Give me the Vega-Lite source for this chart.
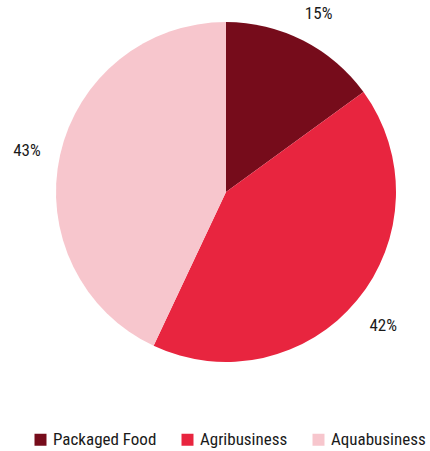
{
  "$schema": "https://vega.github.io/schema/vega-lite/v6.json",
  "width": 408,
  "height": 384,
  "autosize": {"type": "none"},
  "padding": {"left": 22, "top": 0, "right": 0, "bottom": 67},
  "background": "white",
  "config": {"view": {"stroke": null}, "font": "Liberation Sans Narrow, Roboto Condensed, DejaVu Sans Condensed, sans-serif"},
  "data": {"values": [
    {"segment": "Packaged Food", "share": 15, "rank": 1, "label": "15%"},
    {"segment": "Agribusiness", "share": 42, "rank": 2, "label": "42%"},
    {"segment": "Aquabusiness", "share": 43, "rank": 3, "label": "43%"}
  ]},
  "encoding": {
    "theta": {"field": "share", "type": "quantitative", "stack": true},
    "order": {"field": "rank", "type": "quantitative"},
    "color": {
      "field": "segment", "type": "nominal",
      "scale": {"domain": ["Packaged Food", "Agribusiness", "Aquabusiness"], "range": ["#760c1b", "#e8253f", "#f7c6cd"]},
      "legend": {
        "orient": "none", "direction": "horizontal", "title": null,
        "legendX": 10, "legendY": 431,
        "symbolType": "square", "symbolSize": 144, "symbolOpacity": 1,
        "labelFontSize": 17, "labelColor": "#1a1a1a", "labelOffset": 4,
        "columnPadding": 22, "labelLimit": 200,
        "labelFont": "Liberation Sans Narrow, Roboto Condensed, DejaVu Sans Condensed, sans-serif"
      }
    }
  },
  "layer": [
    {"mark": {"type": "arc", "outerRadius": 170}},
    {"mark": {"type": "text", "radius": 204, "dy": 4, "fontSize": 17, "color": "#1a1a1a"},
     "encoding": {"text": {"field": "label", "type": "nominal"}, "color": {"value": "#1a1a1a"}}}
  ]
}
